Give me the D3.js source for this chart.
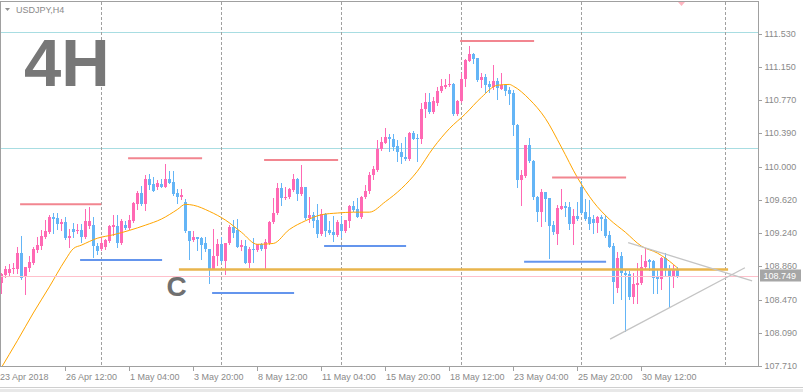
<!DOCTYPE html>
<html><head><meta charset="utf-8">
<script src="https://cdn.jsdelivr.net/npm/d3@7"></script>
<style>html,body{margin:0;padding:0;background:#fff;overflow:hidden}</style>
</head><body>
<svg id="c" width="803" height="392"></svg>
<script>
// ---- data (USDJPY H4, bar index 0 = 23 Apr 2018 20:00) ----
const opens=[108.67,108.76,108.78,108.83,108.83,109.01,108.73,108.84,108.90,109.04,
109.09,109.19,109.25,109.42,109.41,109.34,109.37,109.18,109.29,109.26,
109.27,109.19,109.32,109.33,109.09,109.06,109.08,109.15,109.31,109.32,
109.13,109.33,109.30,109.38,109.57,109.70,109.57,109.86,109.80,109.77,
109.80,109.77,109.86,109.83,109.70,109.65,109.60,109.26,109.16,109.19,
109.18,109.13,109.06,108.83,108.98,109.11,108.92,109.13,109.31,109.27,
109.08,109.09,108.90,109.06,109.04,109.11,109.06,109.13,109.37,109.47,
109.76,109.64,109.65,109.74,109.86,109.69,109.77,109.41,109.45,109.39,
109.23,109.46,109.27,109.25,109.22,109.34,109.26,109.38,109.55,109.52,
109.42,109.65,109.72,109.91,109.97,110.21,110.28,110.34,110.32,110.24,
110.17,110.11,110.09,110.39,110.33,110.32,110.67,110.75,110.63,110.74,
110.87,110.92,110.94,110.95,110.61,110.76,111.01,111.22,111.30,111.25,
111.00,111.04,110.95,110.92,110.99,110.90,110.94,110.89,110.85,110.48,
109.85,109.90,110.25,110.07,109.65,109.48,109.71,109.64,109.33,109.23,
109.52,109.55,109.54,109.34,109.44,109.77,109.48,109.42,109.40,109.36,
109.42,109.40,109.22,109.09,108.61,108.98,108.78,108.77,108.50,108.64,
108.67,108.85,108.93,108.92,108.73,108.71,108.95,108.83,108.73,108.83];
const highs=[108.78,108.86,108.88,108.90,109.08,109.21,108.85,108.98,109.08,109.19,
109.27,109.39,109.45,109.47,109.47,109.40,109.42,109.29,109.36,109.34,
109.34,109.52,109.54,109.42,109.13,109.19,109.17,109.33,109.45,109.45,
109.40,109.38,109.45,109.60,109.72,109.78,109.91,109.92,109.88,109.85,
109.86,110.03,109.95,109.95,109.75,109.75,109.63,109.26,109.26,109.19,
109.19,109.19,109.06,109.29,109.17,109.19,109.13,109.33,109.39,109.40,
109.16,109.16,109.08,109.18,109.11,109.13,109.17,109.38,109.64,109.82,
109.82,109.77,109.76,109.92,109.87,110.02,109.77,109.65,109.48,109.57,
109.52,109.47,109.38,109.44,109.39,109.44,109.39,109.56,109.61,109.64,
109.67,109.79,109.94,110.01,110.31,110.34,110.45,110.38,110.38,110.31,
110.28,110.34,110.40,110.41,110.38,110.74,110.85,110.85,110.81,110.92,
111.01,111.01,111.07,110.97,110.77,111.08,111.24,111.39,111.31,111.25,
111.08,111.07,110.99,111.17,111.02,111.08,110.95,110.92,110.89,110.49,
109.97,110.25,110.33,110.08,109.67,109.75,109.71,109.64,109.38,109.56,
109.75,109.60,109.60,109.52,109.60,109.84,109.63,109.62,109.45,109.44,
109.45,109.45,109.26,109.13,109.02,109.02,108.81,108.80,108.78,108.90,
108.99,109.07,108.94,108.93,108.83,108.96,109.01,108.87,108.87,108.85];
const lows=[108.55,108.73,108.75,108.78,108.78,108.71,108.54,108.80,108.88,109.02,
109.06,109.18,109.24,109.24,109.29,109.27,109.17,109.08,109.19,109.24,
109.14,109.18,109.30,108.96,109.00,109.04,109.06,109.14,109.22,109.08,
109.11,109.29,109.29,109.37,109.52,109.56,109.50,109.75,109.72,109.75,
109.77,109.77,109.82,109.68,109.59,109.63,109.25,108.94,109.15,109.04,
108.94,109.03,108.67,108.83,108.87,108.91,108.77,109.11,109.19,109.08,
109.04,108.90,108.85,108.91,109.03,109.04,108.84,109.11,109.36,109.46,
109.56,109.63,109.64,109.72,109.62,109.68,109.40,109.37,109.31,109.19,
109.22,109.21,109.23,109.15,109.21,109.19,109.25,109.31,109.49,109.42,
109.41,109.64,109.70,109.86,109.95,110.20,110.28,110.18,110.20,110.07,
110.05,110.08,110.08,110.32,110.07,110.28,110.58,110.62,110.62,110.71,
110.86,110.91,110.93,110.60,110.60,110.75,110.93,111.22,111.20,110.99,
110.92,110.86,110.86,110.90,110.78,110.90,110.83,110.72,110.37,109.77,
109.56,109.88,110.06,109.63,109.38,109.32,109.38,108.95,109.23,109.11,
109.52,109.44,109.29,109.11,109.39,109.47,109.39,109.29,109.24,109.25,
109.27,109.19,109.08,108.44,108.56,108.48,108.11,108.48,108.44,108.44,
108.65,108.84,108.81,108.55,108.55,108.60,108.76,108.39,108.62,108.73];
const closes=[108.77,108.83,108.83,108.84,109.01,108.72,108.85,108.91,109.06,109.10,
109.21,109.26,109.42,109.40,109.34,109.37,109.18,109.21,109.25,109.27,
109.19,109.38,109.38,109.09,109.03,109.13,109.16,109.32,109.33,109.13,
109.38,109.30,109.39,109.59,109.70,109.57,109.86,109.79,109.72,109.82,
109.77,109.86,109.82,109.69,109.65,109.68,109.26,109.15,109.19,109.17,
109.10,109.06,108.83,108.98,109.11,108.92,109.13,109.31,109.24,109.08,
109.10,108.90,109.06,109.04,109.11,109.06,109.14,109.37,109.47,109.76,
109.64,109.65,109.75,109.86,109.69,109.77,109.41,109.45,109.38,109.23,
109.46,109.26,109.24,109.22,109.37,109.26,109.39,109.55,109.50,109.42,
109.65,109.72,109.91,109.98,110.21,110.29,110.34,110.32,110.23,110.17,
110.11,110.09,110.39,110.32,110.32,110.67,110.75,110.63,110.76,110.87,
110.93,110.94,110.95,110.61,110.76,111.01,111.23,111.30,111.24,111.00,
111.04,110.94,110.92,110.99,110.91,110.94,110.87,110.84,110.48,109.85,
109.91,110.25,110.07,109.65,109.48,109.71,109.63,109.32,109.25,109.53,
109.55,109.53,109.34,109.44,109.40,109.47,109.40,109.34,109.36,109.42,
109.40,109.21,109.08,108.68,108.95,108.78,108.76,108.50,108.65,108.67,
108.85,108.92,108.91,108.72,108.71,108.95,108.83,108.73,108.83,108.749];

// moving average read at selected bars
const maBars=[0,4,8,12,16,18,20,24,28,32,36,40,44,46,48,52,56,60,64,68,72,76,80,84,88,92,96,100,104,108,112,116,120,124,127,128,132,136,140,144,148,152,156,160,164,168,169];
const maVals=[107.69,108.00,108.32,108.62,108.93,109.06,109.10,109.18,109.22,109.27,109.33,109.40,109.51,109.57,109.56,109.49,109.39,109.25,109.11,109.12,109.28,109.38,109.45,109.47,109.48,109.48,109.60,109.75,109.95,110.22,110.44,110.61,110.80,110.94,110.95,110.93,110.78,110.56,110.23,109.88,109.60,109.40,109.25,109.09,109.01,108.88,108.84];

// y axis ticks
const yTicks=[111.530,111.150,110.770,110.390,110.000,109.620,109.240,108.860,108.470,108.090,107.710];
// x axis labels
const xTickBars=[0,16,32,48,64,80,96,112,128,144,160];
const xTickLabels=["23 Apr 2018","26 Apr 12:00","1 May 04:00","3 May 20:00","8 May 12:00","11 May 04:00","15 May 20:00","18 May 12:00","23 May 04:00","25 May 20:00","30 May 12:00"];
// weekly separators (bar index)
const sepBars=[25,55,85,115,145,181];

// drawn objects
const hLines=[111.55,110.215];              // cyan horizontal lines
const redLevels=[109.57,110.10,110.08,111.45,109.88];
const redFrom=[4.7,31.7,65.7,114.7,137.7];
const redTo=[25,50.2,84.2,133.2,156.2];
const blueLevels=[108.93,108.55,109.09,108.91];
const blueFrom=[19.7,52.7,80.7,130.7];
const blueTo=[40.2,73.2,101.2,151.2];
const goldLevel=108.82, goldFrom=44.4, goldTo=181.7;
const triUpper=[[156.7,109.13],[187.7,108.69]];
const triLower=[[152.2,108.02],[185.9,108.84]];
const bid=108.749;
const symbol="USDJPY,H4";

// ---- drawing ----
const svg=d3.select('#c');
const x=d3.scaleLinear().domain([0,189]).range([1.3,757.3]);
const y=d3.scaleLinear().domain([107.71,111.53]).range([366,34]);
const BULL='#ff69b4', BEAR='#64b5f6', AX='#a0a0a0', TXT='#8a8a8a';
const FONT='"Liberation Sans", Arial, sans-serif';

svg.append('rect').attr('width',803).attr('height',392).attr('fill','#fff');
svg.append('defs').append('clipPath').attr('id','clip')
  .append('rect').attr('x',1).attr('y',2).attr('width',757).attr('height',364);

const plot=svg.append('g').attr('clip-path','url(#clip)');

// cyan lines
plot.selectAll('.hl').data(hLines).enter().append('line')
  .attr('x1',0).attr('x2',758).attr('y1',d=>Math.round(y(d))+0.5).attr('y2',d=>Math.round(y(d))+0.5)
  .attr('stroke','#a8dde2').attr('stroke-width',1);

// separators
plot.selectAll('.sep').data(sepBars).enter().append('line')
  .attr('x1',d=>Math.round(x(d))+0.5).attr('x2',d=>Math.round(x(d))+0.5)
  .attr('y1',2).attr('y2',367).attr('stroke','#a0a0a0').attr('stroke-width',1)
  .attr('stroke-dasharray','3,2');

// candles
const idx=d3.range(opens.length);
const cg=plot.append('g').attr('shape-rendering','crispEdges');
idx.forEach(i=>{
  const cx=Math.round(x(i));
  const col=closes[i]>=opens[i]?BULL:BEAR;
  const yh=Math.round(y(highs[i])), yl=Math.round(y(lows[i]));
  const yo=Math.round(y(opens[i])), yc=Math.round(y(closes[i]));
  cg.append('rect').attr('x',cx).attr('width',1).attr('y',yh).attr('height',Math.max(1,yl-yh+1)).attr('fill',col);
  const top=Math.min(yo,yc), hgt=Math.max(1,Math.abs(yo-yc));
  cg.append('rect').attr('x',cx-1).attr('width',3).attr('y',top).attr('height',hgt).attr('fill',col);
});

// moving average
const ma=maBars.map((b,k)=>[b,maVals[k]]);
plot.append('path').datum(ma)
  .attr('d',d3.line().x(d=>x(d[0])).y(d=>y(d[1])).curve(d3.curveMonotoneX))
  .attr('fill','none').attr('stroke','#ffa500').attr('stroke-width',1);

// red / blue segments
redLevels.forEach((v,k)=>{
  plot.append('line').attr('x1',x(redFrom[k])).attr('x2',x(redTo[k]))
    .attr('y1',y(v)).attr('y2',y(v)).attr('stroke','#f28690').attr('stroke-width',2);
});
blueLevels.forEach((v,k)=>{
  plot.append('line').attr('x1',x(blueFrom[k])).attr('x2',x(blueTo[k]))
    .attr('y1',y(v)).attr('y2',y(v)).attr('stroke','#6495ed').attr('stroke-width',2);
});
// bid line
plot.append('line').attr('x1',0).attr('x2',758).attr('y1',Math.round(y(bid))+0.5).attr('y2',Math.round(y(bid))+0.5)
  .attr('stroke','#ffc0cb').attr('stroke-width',1);
// gold line
plot.append('line').attr('x1',x(goldFrom)).attr('x2',x(goldTo)).attr('y1',y(goldLevel)).attr('y2',y(goldLevel))
  .attr('stroke','#e9b54c').attr('stroke-width',2.5);
// triangle lines
[triUpper,triLower].forEach(t=>{
  plot.append('line').attr('x1',x(t[0][0])).attr('y1',y(t[0][1])).attr('x2',x(t[1][0])).attr('y2',y(t[1][1]))
    .attr('stroke','#c4c4c4').attr('stroke-width',1.3);
});

// texts
svg.append('text').attr('x',24).attr('y',86).attr('font-family',FONT).attr('font-weight','bold')
  .attr('font-size',67).attr('fill','#777').text('4H');
svg.append('text').attr('x',166.5).attr('y',296).attr('font-family',FONT).attr('font-weight','bold')
  .attr('font-size',28).attr('fill','#707070').text('C');

// frame
const fr=svg.append('g').attr('shape-rendering','crispEdges');
fr.append('line').attr('x1',0.5).attr('x2',0.5).attr('y1',1).attr('y2',367).attr('stroke',AX);
fr.append('line').attr('x1',0).attr('x2',759).attr('y1',1.5).attr('y2',1.5).attr('stroke',AX);
fr.append('line').attr('x1',758.5).attr('x2',758.5).attr('y1',1).attr('y2',367).attr('stroke',AX);
fr.append('line').attr('x1',0).attr('x2',759).attr('y1',366.5).attr('y2',366.5).attr('stroke',AX);
fr.append('line').attr('x1',0).attr('x2',803).attr('y1',387.5).attr('y2',387.5).attr('stroke','#cfcfcf');
fr.append('rect').attr('x',0).attr('y',389).attr('width',803).attr('height',3).attr('fill','#e8e8e8');

// symbol label
svg.append('path').attr('d','M5,8 L10,8 L7.5,11 Z').attr('fill','#909090');
svg.append('text').attr('x',16).attr('y',13).attr('font-family',FONT).attr('font-size',9).attr('fill',TXT).text(symbol);
// small pink marker at top
svg.append('path').attr('d','M678,2 L685,2 L681.5,6 Z').attr('fill','#ffb6c1');

// y axis
const ya=svg.append('g');
yTicks.forEach(v=>{
  const yy=Math.round(y(v));
  ya.append('line').attr('x1',759).attr('x2',762).attr('y1',yy+0.5).attr('y2',yy+0.5).attr('stroke',AX).attr('shape-rendering','crispEdges');
  ya.append('text').attr('x',764.5).attr('y',yy).attr('dy','0.35em').attr('font-family',FONT).attr('font-size',9)
    .attr('fill',TXT).text(d3.format('.3f')(v));
});
// bid label
const by=y(bid);
ya.append('rect').attr('x',760).attr('y',Math.round(by)-6.5).attr('width',41).attr('height',12).attr('fill','#a6a6a6');
ya.append('text').attr('x',763.5).attr('y',by).attr('dy','0.35em').attr('font-family',FONT).attr('font-size',9)
  .attr('fill','#fff').text(d3.format('.3f')(bid));

// x axis
const xa=svg.append('g');
xTickBars.forEach((b,k)=>{
  const xx=Math.round(x(b));
  if(k>0) xa.append('line').attr('x1',xx+0.5).attr('x2',xx+0.5).attr('y1',367).attr('y2',371).attr('stroke',AX).attr('shape-rendering','crispEdges');
  xa.append('text').attr('x',k===0?0:xx+1).attr('y',380).attr('font-family',FONT).attr('font-size',9)
    .attr('fill',TXT).text(xTickLabels[k]);
});
</script>
</body></html>
